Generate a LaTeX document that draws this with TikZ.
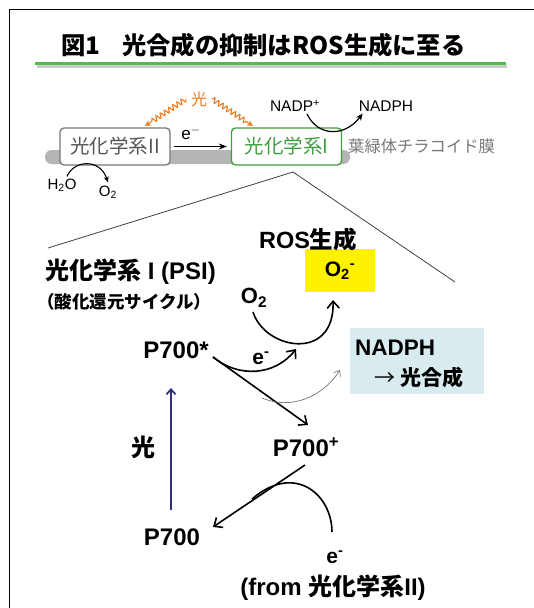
\documentclass[tikz,border=0pt]{standalone}
\usepackage{fontspec}
\setmainfont{Liberation Sans}
\newfontfamily\jp{Noto Sans CJK JP}
\usetikzlibrary{arrows.meta,decorations.pathmorphing,calc}
\definecolor{grn}{HTML}{3E9E3E}
\definecolor{gline}{HTML}{4DBE4A}
\definecolor{org}{HTML}{EE7A1C}
\definecolor{memb}{HTML}{B5B5B5}
\definecolor{nbox}{HTML}{D8EBEE}
\definecolor{navyc}{HTML}{30307A}
\definecolor{dgray}{HTML}{555555}
\definecolor{mgray}{HTML}{777777}
\begin{document}
\begin{tikzpicture}[x=1pt,y=-1pt,
  every node/.style={inner sep=0pt},
  bl/.style={font=\bfseries\fontsize{21}{24}\selectfont},
  bll/.style={font=\bfseries\fontsize{24}{28}\selectfont},
  blk/.style={line width=1.6pt,-{Straight Barb[length=7pt,width=12pt]}},
  wave/.style={org,line width=1.1pt,decorate,decoration={snake,amplitude=2.5pt,segment length=5pt,post length=6pt},-{Stealth[length=6pt,width=6pt]}},
  psbox/.style={line width=1.3pt,rounded corners=4pt,fill=white,minimum width=110pt,minimum height=37pt,font=\jp\fontsize{19.5}{22}\selectfont},
]
\useasboundingbox (0,0) rectangle (534,608);
% frame
\draw[line width=1.6pt] (9.5,608) -- (9.5,9.5) -- (534,9.5);
% title
\node[anchor=west] (title) at (61,45) {\jp\bfseries\fontsize{24.3}{28}\selectfont 図1\hspace{0.9em}光合成の抑制はROS生成に至る};
\draw[line width=3pt,black!20] (37,66) -- (507,66);
\draw[line width=3pt,gline] (35,63) -- (506,63);
% membrane
\fill[memb,rounded corners=6.5pt] (45,150) rectangle (350,164);
% boxes
\node[psbox,draw=mgray,text=dgray] (ps2) at (115,146.5) {光化学系II};
\node[psbox,draw=grn,text=grn] (ps1) at (286.5,146.5) {光化学系I};
\node[anchor=west,text=mgray,font=\jp\fontsize{16.3}{18}\selectfont] (thy) at (348,146) {葉緑体チラコイド膜};
\draw[line width=1.3pt,-{Stealth[length=8pt,width=6pt]}] ([xshift=3pt]ps2.east) -- ([xshift=-4pt]ps1.west);
\node[font=\fontsize{17}{20}\selectfont] (e1) at (191,133) {e$^-$};
% light
\node[text=org,font=\jp\fontsize{16}{18}\selectfont] (lt) at (199,99) {光};
\coordinate (wl) at (145,126);
\coordinate (wr) at (253,126);
\draw[wave] ([xshift=-5pt]lt.west) -- (wl);
\draw[wave] ([xshift=5pt]lt.east) -- (wr);
% NADP
\node[font=\fontsize{15.5}{18}\selectfont] (nadp) at (295,106) {NADP\textsuperscript{+}};
\node[font=\fontsize{15.5}{18}\selectfont] (nadph) at (386,106) {NADPH};
\draw[line width=1.2pt,-{Stealth[length=7pt,width=6pt]}] ($(nadp.south)+(12,2)$) .. controls (318,137) and (345,137) .. ($(nadph.south west)+(4,2)$);
% water
\node[font=\fontsize{15}{18}\selectfont] (h2o) at (62,185) {H\textsubscript{2}O};
\node[font=\fontsize{15}{18}\selectfont] (o2a) at (108,192) {O\textsubscript{2}};
\draw[line width=1.1pt,-{Stealth[length=6pt,width=5pt]}] ($(h2o.north)+(5,-2)$) .. controls (74,160) and (100,158) .. ($(o2a.north)+(0,-3)$);
% zoom lines
\coordinate (zt) at (293,172);
\coordinate (zl) at (48,248);
\coordinate (zr) at (455,282);
\draw[line width=0.8pt,black!75] (zt) -- (zl);
\draw[line width=0.8pt,black!75] (zt) -- (zr);
% lower part
\node[bll,anchor=west] (psi) at (45,272) {{\jp 光化学系} I (PSI)};
\node[anchor=west,font=\jp\bfseries\fontsize{17.5}{20}\selectfont] (redox) at (37,302) {（酸化還元サイクル）};
\node[fill=yellow,minimum width=70pt,minimum height=43pt,bl] (o2m) at (340,270.5) {O\textsubscript{2}\textsuperscript{-}};
\node[font=\bfseries\fontsize{23.5}{26}\selectfont] (ros) at (308,240) {ROS{\jp 生成}};
\node[font=\bfseries\fontsize{22}{24}\selectfont] (o2b) at (254,298) {O\textsubscript{2}};
\node[bll] (p7s) at (176,350) {P700*};
\node[bl] (em1) at (261,358) {e\textsuperscript{-}};
\node[fill=nbox,minimum width=134pt,minimum height=66pt] (nbx) at (417,361) {};
\node[font=\bfseries\fontsize{22.5}{26}\selectfont,anchor=west] (nadph2) at (355,348) {NADPH};
\node[bl] (phot) at (419,377) {{\jp\mdseries →} {\jp 光合成}};
\node[bll] (hv) at (143,447) {\jp 光};
\node[bll] (p7p) at (306,447) {P700\textsuperscript{+}};
\node[bll] (p7) at (172,537) {P700};
\node[bl] (em2) at (335,557) {e\textsuperscript{-}};
\node[bll] (from) at (333,588) {(from {\jp 光化学系}II)};
% arrows
\coordinate (c1s) at (253,312);
\coordinate (c1e) at (333,300);
\draw[blk] (c1s) .. controls (265,350) and (335,362) .. (c1e);
\coordinate (p7so) at (213,357);
\coordinate (c2e) at (296,349);
\draw[blk] (p7so) .. controls (238,378) and (275,376) .. (c2e);
\coordinate (p7pi) at (308,425);
\draw[blk] (p7so) -- (p7pi);
\coordinate (g1) at (262,398);
\coordinate (g2) at (340,370);
\draw[black!55,line width=0.7pt,-{Straight Barb[length=5pt,width=8pt]}] (g1) .. controls (290,410) and (322,398) .. (g2);
\coordinate (nv1) at (171,510);
\coordinate (nv2) at (171,388);
\draw[navyc,line width=1.8pt,-{Straight Barb[length=5pt,width=9pt]}] (nv1) -- (nv2);
\coordinate (p7po) at (305,465);
\coordinate (p7i) at (213,527);
\draw[blk] (p7po) -- (p7i);
\coordinate (ef) at (332,532);
\coordinate (em) at (252,499);
\draw[line width=1.6pt] (ef) .. controls (332,495) and (295,462) .. (em);
\end{tikzpicture}
\end{document}
